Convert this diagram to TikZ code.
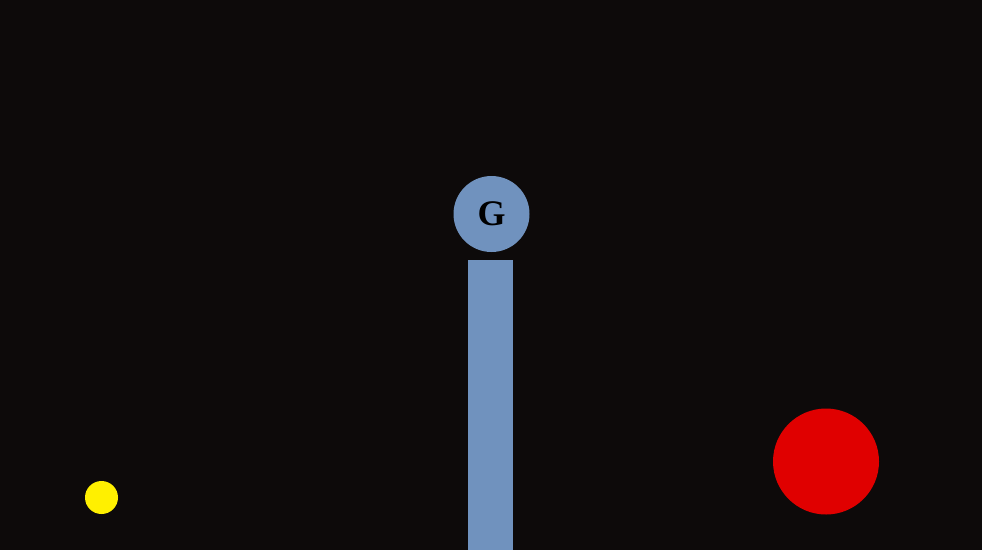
\documentclass[tikz,border=0pt]{standalone}
\usepackage{fontspec}
\newfontfamily\gfont{Liberation Serif}
\begin{document}
\begin{tikzpicture}[x=1pt,y=-1pt,
  bluefill/.style={fill=blueC,draw=none},
  ballstyle/.style={circle,draw=none,inner sep=0pt}]
\definecolor{bgC}{RGB}{13,10,10}
\definecolor{blueC}{RGB}{112,146,190}
\definecolor{redC}{RGB}{224,0,0}
\definecolor{yellowC}{RGB}{255,240,0}
\fill[bgC] (0,0) rectangle (982,550);
\useasboundingbox (0,0) rectangle (982,550);
\node[ballstyle,fill=blueC,minimum size=76pt,font=\gfont\bfseries\fontsize{36}{36}\selectfont,text=black] (g) at (491.5,214) {G};
\path[bluefill] (468,259.5) rectangle (513,550);
\node[ballstyle,fill=yellowC,minimum size=33pt] (y) at (101.5,497.5) {};
\node[ballstyle,fill=redC,minimum size=106pt] (r) at (826,461.5) {};
\end{tikzpicture}
\end{document}
